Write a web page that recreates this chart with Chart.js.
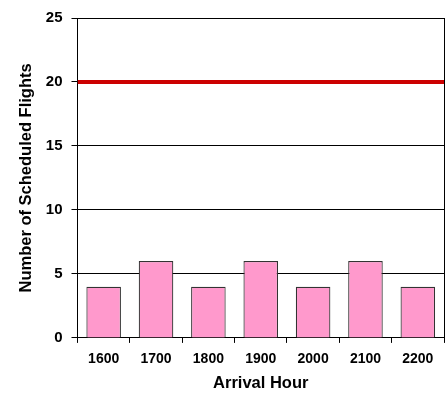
<!DOCTYPE html>
<html>
<head>
<meta charset="utf-8">
<script src="https://cdn.jsdelivr.net/npm/chart.js@4/dist/chart.umd.min.js"></script>
<style>
  html, body { margin: 0; padding: 0; background: #fff; }
  #wrap { width: 447px; height: 393px; }
</style>
</head>
<body>
<div id="wrap"><canvas id="c" width="447" height="393"></canvas></div>
<script>
// Scheduled arrivals per hour, with a capacity limit line
const hours = ['1600', '1700', '1800', '1900', '2000', '2100', '2200'];
const scheduledFlights = [4, 6, 4, 6, 4, 6, 4];
const capacityLimit = 20;
const yTicks = [0, 5, 10, 15, 20, 25];

const FONT = '"Liberation Sans", Arial, sans-serif';

// The limit line spans the full plot width on a hidden linear x axis
const limitPoints = [
  { x: -0.5, y: capacityLimit },
  { x: hours.length - 0.5, y: capacityLimit }
];

new Chart(document.getElementById('c'), {
  data: {
    labels: hours,
    datasets: [
      {
        type: 'line',
        data: limitPoints,
        xAxisID: 'xLine',
        yAxisID: 'y',
        borderColor: '#cc0000',
        borderWidth: 4,
        pointRadius: 0,
        order: 0
      },
      {
        type: 'bar',
        data: scheduledFlights,
        xAxisID: 'x',
        yAxisID: 'y',
        grouped: false,
        backgroundColor: '#ff99cc',
        borderColor: '#333333',
        borderWidth: 1.2,
        barPercentage: 0.66,
        categoryPercentage: 1,
        order: 1
      }
    ]
  },
  options: {
    responsive: false,
    animation: false,
    layout: { padding: { top: 14, right: 3, left: 17, bottom: 0 } },
    plugins: { legend: { display: false }, tooltip: { enabled: false } },
    scales: {
      x: {
        type: 'category',
        offset: true,
        grid: {
          offset: true,
          drawOnChartArea: false,
          drawTicks: true,
          color: '#000',
          tickColor: '#000',
          tickWidth: 1,
          tickLength: 5,
          lineWidth: 1
        },
        border: { color: '#000', width: 1 },
        ticks: {
          color: '#000',
          font: { family: FONT, size: 14, weight: 'bold' },
          padding: 8,
          maxRotation: 0
        },
        title: {
          display: true,
          text: 'Arrival Hour',
          color: '#000',
          font: { family: FONT, size: 16.5, weight: 'bold' },
          padding: { top: -2.5, bottom: 0 }
        }
      },
      xLine: {
        type: 'linear',
        display: false,
        min: -0.5,
        max: hours.length - 0.5
      },
      y: {
        min: 0,
        max: 25,
        afterBuildTicks: s => { s.ticks = yTicks.map(v => ({ value: v })); },
        grid: {
          color: '#000',
          lineWidth: 1,
          tickColor: '#000',
          tickWidth: 1,
          tickLength: 6
        },
        border: { color: '#000', width: 1 },
        ticks: {
          color: '#000',
          font: { family: FONT, size: 15, weight: 'bold' },
          padding: 9
        },
        title: {
          display: true,
          text: 'Number of Scheduled Flights',
          color: '#000',
          font: { family: FONT, size: 16.5, weight: 'bold' },
          padding: { top: 0, bottom: 0 }
        }
      },
      // right-hand frame line of the plot area
      yFrame: {
        position: 'right',
        min: 0,
        max: 25,
        grid: { display: false },
        ticks: { display: false },
        border: { display: true, color: '#000', width: 1 },
        afterFit: s => { s.width = 0; }
      }
    }
  }
});
</script>
</body>
</html>
